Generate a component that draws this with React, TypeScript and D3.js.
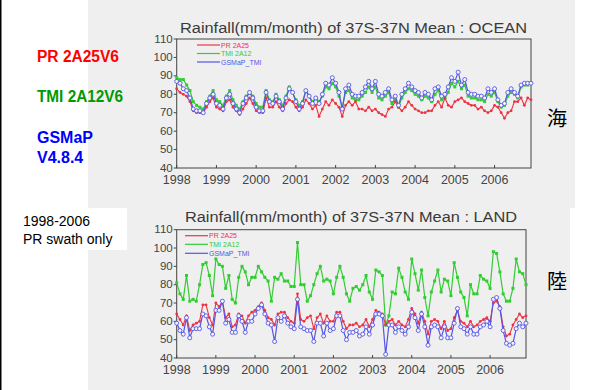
import React from "react";
import * as d3 from "d3";

const years = ["1998", "1999", "2000", "2001", "2002", "2003", "2004", "2005", "2006"];
const yTicks = [40, 50, 60, 70, 80, 90, 100, 110];

// OCEAN panel
const oceanPR = [
  83, 81, 80, 79, 76, 71, 70, 70, 70, 73, 76, 78,
  73, 72, 71, 76, 77, 73, 71, 69, 72, 75, 78, 75,
  71, 70, 70, 78, 73, 73, 76, 73, 71, 75, 77, 76,
  73, 71, 73, 77, 75, 72, 74, 68, 72, 76, 74, 77,
  75, 73, 68, 74, 76, 74, 76, 72, 72, 71, 73, 71,
  72, 70, 69, 68, 72, 73, 76, 73, 71, 73, 76, 74,
  72, 71, 70, 70, 71, 71, 74, 76, 73, 78, 74, 73,
  76, 77, 78, 76, 75, 74, 74, 72, 73, 71, 70, 71,
  74, 73, 70, 67, 70, 71, 76, 76, 78, 74, 78, 77,
];
const oceanTMI = [
  89, 88, 88, 85, 82, 76, 74, 73, 72, 76, 79, 82,
  77, 76, 74, 79, 82, 77, 74, 72, 76, 79, 81, 79,
  75, 73, 73, 82, 77, 76, 80, 77, 74, 79, 84, 81,
  77, 74, 76, 82, 79, 76, 78, 76, 79, 84, 83, 86,
  84, 79, 73, 81, 82, 78, 77, 77, 79, 81, 84, 81,
  84, 78, 77, 79, 81, 75, 77, 73, 78, 81, 83, 82,
  80, 79, 77, 79, 78, 76, 80, 82, 77, 78, 81, 86,
  84, 87, 83, 85, 79, 78, 78, 77, 77, 76, 80, 79,
  81, 76, 73, 74, 79, 81, 80, 78, 84, 85, 85, 86,
];
const oceanGSMaP = [
  87, 86, 83, 82, 78, 72, 71, 71, 70, 75, 78, 80,
  75, 74, 72, 78, 80, 75, 72, 70, 75, 78, 81, 78,
  73, 71, 71, 81, 76, 75, 79, 76, 72, 78, 83, 81,
  76, 72, 75, 82, 79, 75, 78, 75, 80, 86, 85, 89,
  86, 81, 72, 83, 85, 80, 79, 79, 81, 84, 87, 83,
  87, 80, 79, 81, 83, 77, 79, 74, 80, 83, 86, 84,
  82, 81, 78, 81, 80, 77, 83, 84, 79, 80, 84, 89,
  87, 92, 85, 88, 81, 80, 80, 79, 79, 78, 83, 81,
  83, 77, 74, 75, 81, 83, 81, 79, 85, 86, 86, 86,
];

// LAND panel
const landPR = [
  64, 61, 58, 63, 55, 58, 59, 60, 69, 69, 62, 58,
  70, 68, 71, 62, 64, 57, 58, 64, 63, 59, 63, 65,
  66, 68, 70, 66, 62, 61, 58, 64, 65, 65, 62, 60,
  59, 75, 61, 60, 62, 63, 56, 62, 64, 59, 63, 60,
  60, 65, 65, 60, 56, 58, 58, 59, 57, 58, 61, 57,
  61, 66, 65, 64, 58, 60, 61, 58, 60, 58, 57, 61,
  67, 64, 59, 65, 60, 53, 60, 61, 60, 56, 60, 55,
  56, 62, 66, 60, 59, 57, 60, 57, 58, 60, 61, 62,
  60, 70, 71, 68, 57, 52, 53, 58, 61, 64, 62, 63,
];
const landTMI = [
  81, 75, 72, 85, 71, 72, 71, 80, 91, 92, 85, 74,
  94, 91, 90, 78, 85, 72, 70, 84, 90, 87, 80, 84,
  84, 90, 87, 84, 82, 71, 84, 83, 86, 82, 82, 79,
  79, 103, 80, 80, 71, 74, 80, 86, 90, 82, 83, 82,
  75, 84, 90, 84, 75, 71, 78, 79, 77, 80, 85, 76,
  72, 88, 87, 85, 58, 63, 76, 75, 89, 84, 76, 72,
  94, 86, 77, 88, 73, 63, 76, 82, 88, 76, 83, 82,
  74, 92, 84, 76, 73, 63, 80, 75, 75, 85, 83, 82,
  78, 98, 97, 87, 75, 71, 71, 78, 94, 87, 86, 80,
];
const landGSMaP = [
  59, 55, 53, 62, 51, 56, 56, 56, 64, 63, 57, 53,
  66, 66, 71, 59, 61, 54, 54, 63, 60, 54, 60, 60,
  64, 67, 69, 64, 59, 58, 49, 62, 60, 63, 59, 57,
  56, 72, 57, 56, 55, 55, 49, 59, 59, 52, 59, 55,
  56, 63, 63, 55, 50, 54, 54, 55, 52, 53, 57, 53,
  58, 64, 64, 63, 42, 58, 58, 54, 57, 55, 53, 57,
  65, 62, 55, 64, 57, 47, 57, 58, 57, 51, 57, 51,
  51, 59, 67, 57, 56, 53, 57, 53, 53, 57, 58, 60,
  57, 72, 73, 67, 55, 48, 47, 48, 56, 59, 57, 59,
];

const RED = "#ee3344";
const GREEN = "#33cc33";
const BLUE = "#5555e6";
const AXIS = "#444";

type PanelProps = {
  left: number; right: number; top: number; bottom: number;
  title: string; titleX: number; titleY: number; titleW: number;
  pr: number[]; tmi: number[]; gs: number[];
  legX: number; legY: number[];
};

function Panel(p: PanelProps) {
  const x = d3.scaleLinear().domain([0, 107]).range([p.left, p.right]);
  const y = d3.scaleLinear().domain([40, 110]).range([p.bottom, p.top]);
  const line = d3.line<number>().x((_, i) => x(i)).y((d) => y(d));
  const legends = [
    { c: RED, t: "PR 2A25" },
    { c: GREEN, t: "TMI 2A12" },
    { c: BLUE, t: "GSMaP_TMI" },
  ];
  return (
    <g>
      <text x={p.titleX} y={p.titleY} fontFamily="Liberation Sans, Arial, sans-serif" fontSize={15.5}
        fill="#3a3a3a" textLength={p.titleW} lengthAdjust="spacingAndGlyphs">{p.title}</text>
      <rect x={p.left} y={p.top} width={p.right - p.left} height={p.bottom - p.top} fill="none" stroke={AXIS} strokeWidth={1} />
      {yTicks.map((t) => (
        <g key={t}>
          <line x1={p.left - 3} x2={p.left} y1={y(t)} y2={y(t)} stroke={AXIS} />
          <text x={p.left - 4} y={y(t) + 3.5} textAnchor="end" fontSize={11.5} fill="#444"
            fontFamily="Liberation Sans, Arial, sans-serif">{t}</text>
        </g>
      ))}
      {years.map((yr, i) => (
        <g key={yr}>
          <line x1={x(i * 12)} x2={x(i * 12)} y1={p.bottom} y2={p.bottom - 3} stroke={AXIS} />
          <text x={x(i * 12)} y={p.bottom + 16} textAnchor="middle" fontSize={12.5} fill="#444"
            fontFamily="Liberation Sans, Arial, sans-serif">{yr}</text>
        </g>
      ))}
      <path d={line(p.tmi) || ""} fill="none" stroke={GREEN} strokeWidth={1.2} />
      {p.tmi.map((v, i) => (
        <rect key={"g" + i} x={x(i) - 1.5} y={y(v) - 1.5} width={3} height={3} fill={GREEN} />
      ))}
      <path d={line(p.pr) || ""} fill="none" stroke={RED} strokeWidth={1.1} />
      {p.pr.map((v, i) => (
        <circle key={"r" + i} cx={x(i)} cy={y(v)} r={1.4} fill={RED} />
      ))}
      <path d={line(p.gs) || ""} fill="none" stroke={BLUE} strokeWidth={1.2} />
      {p.gs.map((v, i) => (
        <circle key={"b" + i} cx={x(i)} cy={y(v)} r={2} fill="#f4f4ff" stroke={BLUE} strokeWidth={0.9} />
      ))}
      {legends.map((l, i) => (
        <g key={l.t}>
          <line x1={p.legX} x2={p.legX + 23} y1={p.legY[i]} y2={p.legY[i]} stroke={l.c} strokeWidth={1.2} />
          <text x={p.legX + 24} y={p.legY[i] + 2.5} fontSize={7} fill={l.c}
            fontFamily="Liberation Sans, Arial, sans-serif">{l.t}</text>
        </g>
      ))}
    </g>
  );
}

export default function App() {
  return (
    <svg width={596} height={390} style={{ position: "absolute", left: 0, top: 0, display: "block" }}
      xmlns="http://www.w3.org/2000/svg">
      <rect x={0} y={0} width={596} height={390} fill="#ffffff" />
      <rect x={88} y={0} width={487} height={208} fill="#efefef" />
      <rect x={88} y={208} width={482} height={182} fill="#efefef" />
      <rect x={0} y={0} width={1.5} height={390} fill="#000" />
      <rect x={88} y={208} width={39} height={42} fill="#ffffff" />

      <text x={37} y={62} fontFamily="Liberation Sans, Arial, sans-serif" fontWeight="bold" fontSize={16}
        fill="#ff0000" textLength={82} lengthAdjust="spacingAndGlyphs">PR 2A25V6</text>
      <text x={37} y={102} fontFamily="Liberation Sans, Arial, sans-serif" fontWeight="bold" fontSize={16}
        fill="#009900" textLength={86} lengthAdjust="spacingAndGlyphs">TMI 2A12V6</text>
      <text x={37} y={143} fontFamily="Liberation Sans, Arial, sans-serif" fontWeight="bold" fontSize={16}
        fill="#0000ff">GSMaP</text>
      <text x={37} y={163} fontFamily="Liberation Sans, Arial, sans-serif" fontWeight="bold" fontSize={16}
        fill="#0000ff">V4.8.4</text>

      <text x={23} y={226} fontFamily="Liberation Sans, Arial, sans-serif" fontSize={14} fill="#000">1998-2006</text>
      <text x={23} y={244} fontFamily="Liberation Sans, Arial, sans-serif" fontSize={14} fill="#000">PR swath only</text>

      <text x={547} y={126} fontFamily="Noto Sans CJK JP, sans-serif" fontSize={20} fill="#000">海</text>
      <text x={547} y={289} fontFamily="Noto Sans CJK JP, sans-serif" fontSize={20} fill="#000">陸</text>

      <Panel left={176.7} right={531} top={39} bottom={168}
        title="Rainfall(mm/month) of 37S-37N Mean : OCEAN" titleX={180} titleY={33} titleW={347}
        pr={oceanPR} tmi={oceanTMI} gs={oceanGSMaP} legX={197} legY={[45, 53.5, 62]} />
      <Panel left={176.7} right={526} top={229.7} bottom={358}
        title="Rainfall(mm/month) of 37S-37N Mean : LAND" titleX={185} titleY={222} titleW={332}
        pr={landPR} tmi={landTMI} gs={landGSMaP} legX={185} legY={[235.7, 244.3, 253.3]} />
    </svg>
  );
}
